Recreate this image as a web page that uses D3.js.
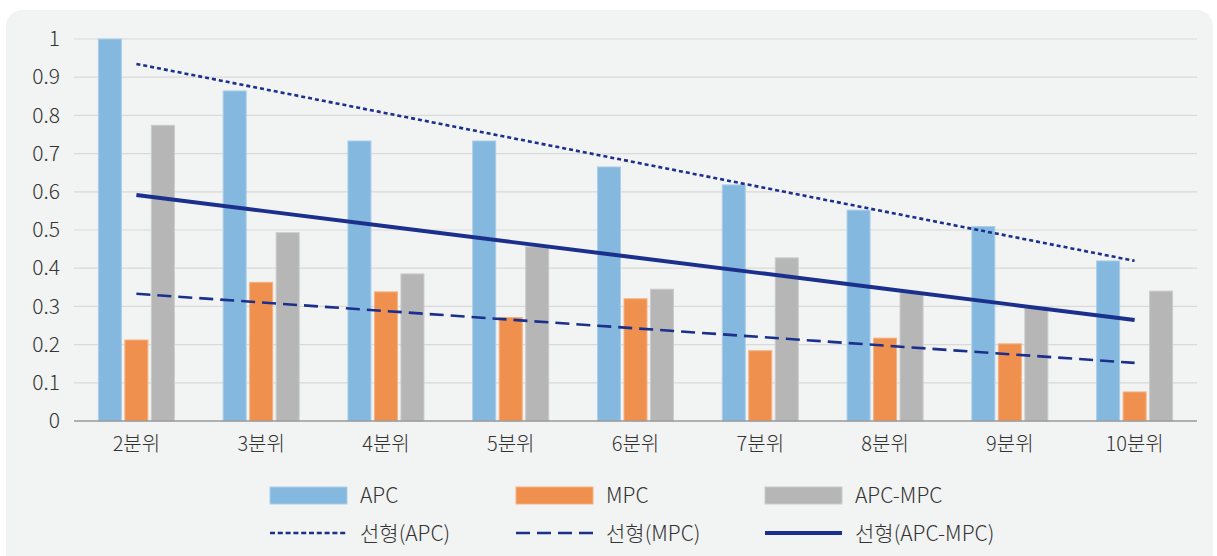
<!DOCTYPE html>
<html>
<head>
<meta charset="utf-8">
<script src="https://cdn.jsdelivr.net/npm/d3@7/dist/d3.min.js"></script>
<style>
  html, body { margin: 0; padding: 0; background: #ffffff; }
  svg { display: block; }
  text { font-family: "Noto Sans CJK KR", "Noto Sans", sans-serif; fill: #333333; }
</style>
</head>
<body>
<svg id="chart" width="1217" height="556"></svg>
<script>
// Income quantiles (분위)
const categories = ["2분위", "3분위", "4분위", "5분위", "6분위", "7분위", "8분위", "9분위", "10분위"];
// Average / marginal propensity to consume per quantile
const apc    = [1.000, 0.864, 0.733, 0.733, 0.665, 0.618, 0.552, 0.509, 0.419];
const mpc    = [0.212, 0.363, 0.338, 0.271, 0.320, 0.184, 0.217, 0.202, 0.076];
const apcMpc = [0.774, 0.493, 0.385, 0.456, 0.345, 0.427, 0.336, 0.296, 0.340];
const yTicks = [0, 0.1, 0.2, 0.3, 0.4, 0.5, 0.6, 0.7, 0.8, 0.9, 1];

const series = [
  { key: "APC",     values: apc,    color: "#84b8de", stroke: "#a9cfea" },
  { key: "MPC",     values: mpc,    color: "#f0904e", stroke: "#f6b183" },
  { key: "APC-MPC", values: apcMpc, color: "#b5b6b5", stroke: "#cacbca" }
];
const lineColor = "#1b2f8c";
const trends = [
  { key: "선형(APC)",     values: apc,    dash: "4,3",  legendDash: "5,2.8", width: 2.6 },
  { key: "선형(MPC)",     values: mpc,    dash: "14,7", legendDash: "14,7",  width: 2.6 },
  { key: "선형(APC-MPC)", values: apcMpc, dash: null,   legendDash: null,    width: 4 }
];

const svg = d3.select("#chart");

// rounded panel background
svg.append("rect")
  .attr("x", 6).attr("y", 10).attr("width", 1207).attr("height", 560)
  .attr("rx", 16).attr("fill", "#f2f3f3");

const plot = { left: 74, right: 1197, top: 39, bottom: 421 };

const x = d3.scaleBand().domain(categories).range([plot.left, plot.right]).paddingInner(0).paddingOuter(0);
const y = d3.scaleLinear().domain([0, 1]).range([plot.bottom, plot.top]);

const barW = 23, barStep = 26.5;

// gridlines
svg.append("g").selectAll("line").data(yTicks.filter(t => t > 0)).join("line")
  .attr("x1", plot.left).attr("x2", plot.right)
  .attr("y1", d => y(d)).attr("y2", d => y(d))
  .attr("stroke", "#d9d9d9").attr("stroke-width", 1.2);

// y axis labels
const yAxis = d3.axisLeft(y).tickValues(yTicks).tickSize(0).tickPadding(14)
  .tickFormat(d => d === 0 ? "0" : d === 1 ? "1" : d3.format(".1f")(d));
const gy = svg.append("g").attr("transform", `translate(${plot.left},0)`).call(yAxis);
gy.select(".domain").remove();
gy.attr("font-size", null).attr("font-family", null);
gy.selectAll("text")
  .style("font-size", "21px").style("font-weight", 300).style("fill", "#333333");

// bars
series.forEach((s, si) => {
  svg.append("g").selectAll("rect").data(s.values).join("rect")
    .attr("x", (d, i) => x(categories[i]) + x.bandwidth() / 2 + (si - 1) * barStep - barW / 2)
    .attr("y", d => y(d))
    .attr("width", barW)
    .attr("height", d => y(0) - y(d))
    .attr("fill", s.color)
    .attr("stroke", s.stroke).attr("stroke-width", 1);
});

// baseline
svg.append("line")
  .attr("x1", plot.left).attr("x2", plot.right)
  .attr("y1", y(0)).attr("y2", y(0))
  .attr("stroke", "#9a9a9a").attr("stroke-width", 1.3);

// x axis labels
const xAxis = d3.axisBottom(x).tickSize(0).tickPadding(16);
const gx = svg.append("g").attr("transform", `translate(0,${plot.bottom})`).call(xAxis);
gx.select(".domain").remove();
gx.attr("font-size", null).attr("font-family", null);
gx.selectAll("text")
  .style("font-size", "20px").style("font-weight", 300).style("fill", "#333333");

// least-squares linear trend lines
function linearFit(vals) {
  const xs = vals.map((_, i) => i + 1);
  const mx = d3.mean(xs), my = d3.mean(vals);
  const slope = d3.sum(xs, (xi, i) => (xi - mx) * (vals[i] - my)) / d3.sum(xs, xi => (xi - mx) ** 2);
  return xs.map(xi => my + slope * (xi - mx));
}
const line = d3.line()
  .x((d, i) => x(categories[i]) + x.bandwidth() / 2)
  .y(d => y(d));

trends.forEach(t => {
  svg.append("path")
    .datum(linearFit(t.values))
    .attr("d", line)
    .attr("fill", "none")
    .attr("stroke", lineColor)
    .attr("stroke-width", t.width)
    .attr("stroke-dasharray", t.dash);
});

// legend
const legendX = [270, 516, 765];
const swatchW = 77;
const legend = svg.append("g");
function legendLabel(x0, y0, str) {
  legend.append("text")
    .attr("x", x0).attr("y", y0)
    .attr("dy", "0.35em")
    .style("font-size", "21px").style("font-weight", 300)
    .text(str);
}
series.forEach((s, i) => {
  legend.append("rect")
    .attr("x", legendX[i]).attr("y", 487).attr("width", swatchW).attr("height", 17)
    .attr("fill", s.color).attr("stroke", s.stroke);
  legendLabel(legendX[i] + 90, 496, s.key);
});
trends.forEach((t, i) => {
  legend.append("line")
    .attr("x1", legendX[i]).attr("x2", legendX[i] + swatchW)
    .attr("y1", 533).attr("y2", 533)
    .attr("stroke", lineColor)
    .attr("stroke-width", i === 2 ? 4 : 2.6)
    .attr("stroke-dasharray", t.legendDash);
  legendLabel(legendX[i] + 90, 534, t.key);
});
</script>
</body>
</html>
